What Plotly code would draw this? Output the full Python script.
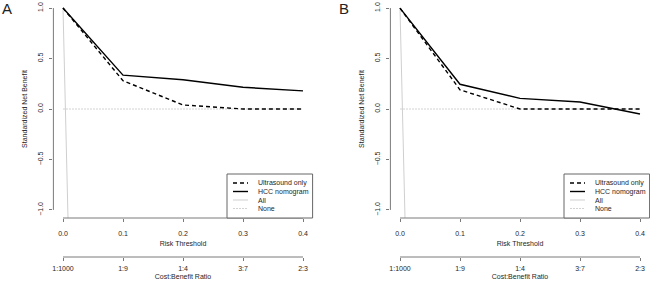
import plotly.graph_objects as go

# ---------------- data ----------------
risk = [0.0, 0.1, 0.2, 0.3, 0.4]
risk_ticks = [0.0, 0.1, 0.2, 0.3, 0.4]
risk_labels = ["0.0", "0.1", "0.2", "0.3", "0.4"]
ratio_labels = ["1:1000", "1:9", "1:4", "3:7", "2:3"]
y_ticks = [-1.0, -0.5, 0.0, 0.5, 1.0]

a_ultrasound = [1.0, 0.28, 0.04, 0.0, 0.0]
a_hcc = [1.0, 0.335, 0.29, 0.215, 0.18]
b_ultrasound = [1.0, 0.19, 0.0, 0.0, 0.0]
b_hcc = [1.0, 0.245, 0.105, 0.07, -0.05]

all_x = [0.0, 0.01]
a_all = [1.0, -1.5]
b_all = [1.0, -1.5]
none_x = [0.0, 0.4]
none_y = [0.0, 0.0]

series_names = ["Ultrasound only", "HCC nomogram", "All", "None"]
panel_labels = ["A", "B"]

# ---------------- layout helpers ----------------
W, H = 650, 281
FONT = "Liberation Sans, Arial, sans-serif"
AXC = "#7a7a7a"
TXT = "#262626"


def px(x):
    return x / W


def py(y):
    return 1 - y / H


XR = [-0.016, 0.416]
YR = [-1.08, 1.08]
dom_a = [px(53.4), px(312.6)]
dom_b = [px(390.4), px(649.6)]
ydom = [py(218), 1.0]
ratio_pos = py(257)

styles = {
    "Ultrasound only": dict(color="black", width=1.4, dash="4px,3px"),
    "HCC nomogram": dict(color="black", width=1.4),
    "All": dict(color="#cfcfcf", width=1),
    "None": dict(color="#d2d2d2", width=1, dash="2px,1px"),
}

fig = go.Figure()

panels = [
    dict(xa="x", ya="y", xr="x3", us=a_ultrasound, hcc=a_hcc, all=a_all, dom=dom_a),
    dict(xa="x2", ya="y2", xr="x4", us=b_ultrasound, hcc=b_hcc, all=b_all, dom=dom_b),
]

for p in panels:
    fig.add_trace(go.Scatter(x=none_x, y=none_y, mode="lines", line=styles["None"],
                             xaxis=p["xa"], yaxis=p["ya"], showlegend=False, name="None"))
    fig.add_trace(go.Scatter(x=all_x, y=p["all"], mode="lines", line=styles["All"],
                             xaxis=p["xa"], yaxis=p["ya"], showlegend=False, name="All"))
    fig.add_trace(go.Scatter(x=risk, y=p["us"], mode="lines", line=styles["Ultrasound only"],
                             xaxis=p["xa"], yaxis=p["ya"], showlegend=False, name="Ultrasound only"))
    fig.add_trace(go.Scatter(x=risk, y=p["hcc"], mode="lines", line=styles["HCC nomogram"],
                             xaxis=p["xa"], yaxis=p["ya"], showlegend=False, name="HCC nomogram"))
    # invisible carrier for the cost:benefit axis
    fig.add_trace(go.Scatter(x=risk_ticks, y=[None] * len(risk_ticks), mode="markers",
                             xaxis=p["xr"], yaxis=p["ya"], showlegend=False, hoverinfo="skip"))

tickfont = dict(family=FONT, size=7, color=TXT)
common_x = dict(range=XR, showgrid=False, zeroline=False, showline=False,
                ticks="outside", ticklen=3, tickcolor=AXC, tickwidth=1,
                tickvals=risk_ticks, tickfont=tickfont)
common_y = dict(range=YR, domain=ydom, showgrid=False, zeroline=False, showline=False,
                ticks="outside", ticklen=3, tickcolor=AXC, tickwidth=1,
                tickvals=y_ticks, tickformat=".1f", tickangle=-90, tickfont=tickfont,
                ticklabelstandoff=4,
                title=dict(text="Standardized Net Benefit", font=dict(family=FONT, size=7, color=TXT),
                           standoff=8))
xtitle = dict(text="Risk Threshold", font=dict(family=FONT, size=7, color=TXT), standoff=4)
rtitle = dict(text="Cost:Benefit Ratio", font=dict(family=FONT, size=7, color=TXT), standoff=2)

fig.update_layout(
    width=W, height=H, template="none",
    margin=dict(l=0, r=0, t=0, b=0),
    paper_bgcolor="white", plot_bgcolor="white",
    showlegend=False,
    xaxis=dict(domain=dom_a, anchor="y", ticktext=risk_labels, title=xtitle,
               ticklabelstandoff=6, **common_x),
    yaxis=dict(anchor="x", **common_y),
    xaxis2=dict(domain=dom_b, anchor="y2", ticktext=risk_labels, title=xtitle,
                ticklabelstandoff=6, **common_x),
    yaxis2=dict(anchor="x2", **common_y),
    xaxis3=dict(overlaying="x", anchor="free", position=ratio_pos, side="bottom",
                ticktext=ratio_labels, title=rtitle, ticklabelstandoff=2, **common_x),
    xaxis4=dict(overlaying="x2", anchor="free", position=ratio_pos, side="bottom",
                ticktext=ratio_labels, title=rtitle, ticklabelstandoff=2, **common_x),
)

shapes = []
annotations = []
for i, p in enumerate(panels):
    xa = p["xa"]
    ya = p["ya"]
    # R-style axis lines spanning first to last tick
    shapes.append(dict(type="line", xref=xa, yref="paper", x0=risk_ticks[0], x1=risk_ticks[-1],
                       y0=ydom[0], y1=ydom[0], line=dict(color=AXC, width=1)))
    shapes.append(dict(type="line", xref=xa, yref="paper", x0=risk_ticks[0], x1=risk_ticks[-1],
                       y0=ratio_pos, y1=ratio_pos, line=dict(color=AXC, width=1)))
    shapes.append(dict(type="line", xref="paper", yref=ya, x0=p["dom"][0], x1=p["dom"][0],
                       y0=y_ticks[0], y1=y_ticks[-1], line=dict(color=AXC, width=1)))
    # manual legend (bottom-right of the plot region)
    off = (p["dom"][0] - dom_a[0]) * W
    right = p["dom"][1] * W
    shapes.append(dict(type="rect", xref="paper", yref="paper",
                       x0=px(227 + off), x1=px(right), y0=py(218), y1=py(174),
                       line=dict(color="#666666", width=1), fillcolor="white", layer="above"))
    rows = [183, 191.5, 200, 208.5]
    for name, ry in zip(series_names, rows):
        st = styles[name]
        shapes.append(dict(type="line", xref="paper", yref="paper",
                           x0=px(233 + off), x1=px(248 + off), y0=py(ry), y1=py(ry),
                           line=dict(color=st["color"], width=st["width"],
                                     dash=st.get("dash", "solid")), layer="above"))
        annotations.append(dict(text=name, xref="paper", yref="paper", x=px(256 + off), y=py(ry),
                                xanchor="left", yanchor="middle", showarrow=False,
                                font=dict(family=FONT, size=7, color=TXT)))
    annotations.append(dict(text=panel_labels[i], xref="paper", yref="paper",
                            x=px(0 + (337 if i == 1 else 0)), y=py(8), xanchor="left",
                            yanchor="middle", showarrow=False,
                            font=dict(family=FONT, size=15, color="#222222")))

fig.update_layout(shapes=shapes, annotations=annotations)
fig.write_html(
    "out.html",
    config={"displayModeBar": False},
    post_script="document.body.style.margin='0';document.body.style.padding='0';"
                "document.body.style.overflow='hidden';",
)
